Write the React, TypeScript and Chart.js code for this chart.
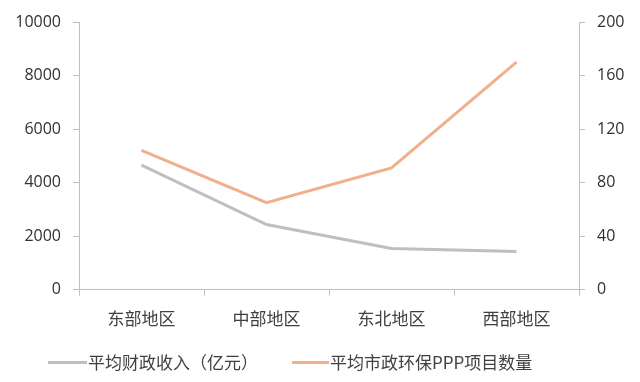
import React, { useEffect, useRef } from "react";
import { Chart, registerables } from "chart.js";

Chart.register(...registerables);

const categories = ["东部地区", "中部地区", "东北地区", "西部地区"];
const revenueLabel = "平均财政收入（亿元）";
const projectLabel = "平均市政环保PPP项目数量";
const revenue = [4650, 2430, 1535, 1425];
const projects = [104, 65, 91, 170];
const revenueColor = "#BFBFBF";
const projectColor = "#F0B08C";

const NUM_FONT = "'Open Sans', 'Liberation Sans', sans-serif";
const CJK_FONT = "'Noto Sans CJK SC', sans-serif";

export default function App() {
  const ref = useRef<HTMLCanvasElement | null>(null);
  useEffect(() => {
    if (!ref.current) return;
    const chart = new Chart(ref.current, {
      type: "line",
      data: {
        labels: categories,
        datasets: [
          {
            label: revenueLabel,
            data: revenue,
            borderColor: revenueColor,
            backgroundColor: revenueColor,
            borderWidth: 3,
            pointRadius: 0,
            yAxisID: "y",
            tension: 0,
          },
          {
            label: projectLabel,
            data: projects,
            borderColor: projectColor,
            backgroundColor: projectColor,
            borderWidth: 3,
            pointRadius: 0,
            yAxisID: "y1",
            tension: 0,
          },
        ],
      },
      options: {
        animation: false,
        responsive: false,
        layout: { padding: { top: 22, left: 0, right: 0, bottom: 40 } },
        plugins: {
          tooltip: { enabled: false },
          legend: { display: false },
        },
        scales: {
          x: {
            offset: true,
            grid: { offset: true, drawOnChartArea: false, tickLength: 6, color: "#BFBFBF" },
            border: { color: "#BFBFBF" },
            ticks: {
              color: "#404040",
              padding: 13,
              font: { family: CJK_FONT, size: 17 },
            },
          },
          y: {
            position: "left",
            min: 0,
            max: 10000,
            afterFit: (s: any) => { s.width = 79; },
            grid: { drawOnChartArea: false, tickLength: 6, color: "#BFBFBF" },
            border: { color: "#BFBFBF" },
            ticks: {
              stepSize: 2000,
              color: "#303030",
              padding: 12,
              font: { family: NUM_FONT, size: 16 },
              callback: (v: any) => String(v),
            },
          },
          y1: {
            position: "right",
            min: 0,
            max: 200,
            afterFit: (s: any) => { s.width = 61; },
            grid: { drawOnChartArea: false, tickLength: 6, color: "#BFBFBF" },
            border: { color: "#BFBFBF" },
            ticks: {
              stepSize: 40,
              color: "#303030",
              padding: 12,
              font: { family: NUM_FONT, size: 16 },
              callback: (v: any) => String(v),
            },
          },
        },
      },
    });
    return () => chart.destroy();
  }, []);

  const legendItem = (color: string, text: string, left: number, lineW: number) => (
    <div
      style={{
        position: "absolute",
        left,
        top: 350,
        height: 24,
        display: "flex",
        alignItems: "center",
        whiteSpace: "nowrap",
      }}
    >
      <span style={{ display: "inline-block", width: lineW, height: 3, background: color, marginRight: 1 }} />
      <span style={{ fontFamily: CJK_FONT, fontSize: 17, color: "#404040", lineHeight: "24px" }}>{text}</span>
    </div>
  );

  return (
    <div style={{ position: "absolute", left: 0, top: 0, width: 640, height: 382, background: "#fff", overflow: "hidden" }}>
      <canvas ref={ref} width={640} height={382} style={{ width: 640, height: 382, display: "block" }} />
      {legendItem(revenueColor, revenueLabel, 48, 39)}
      {legendItem(projectColor, projectLabel, 292, 37)}
    </div>
  );
}
